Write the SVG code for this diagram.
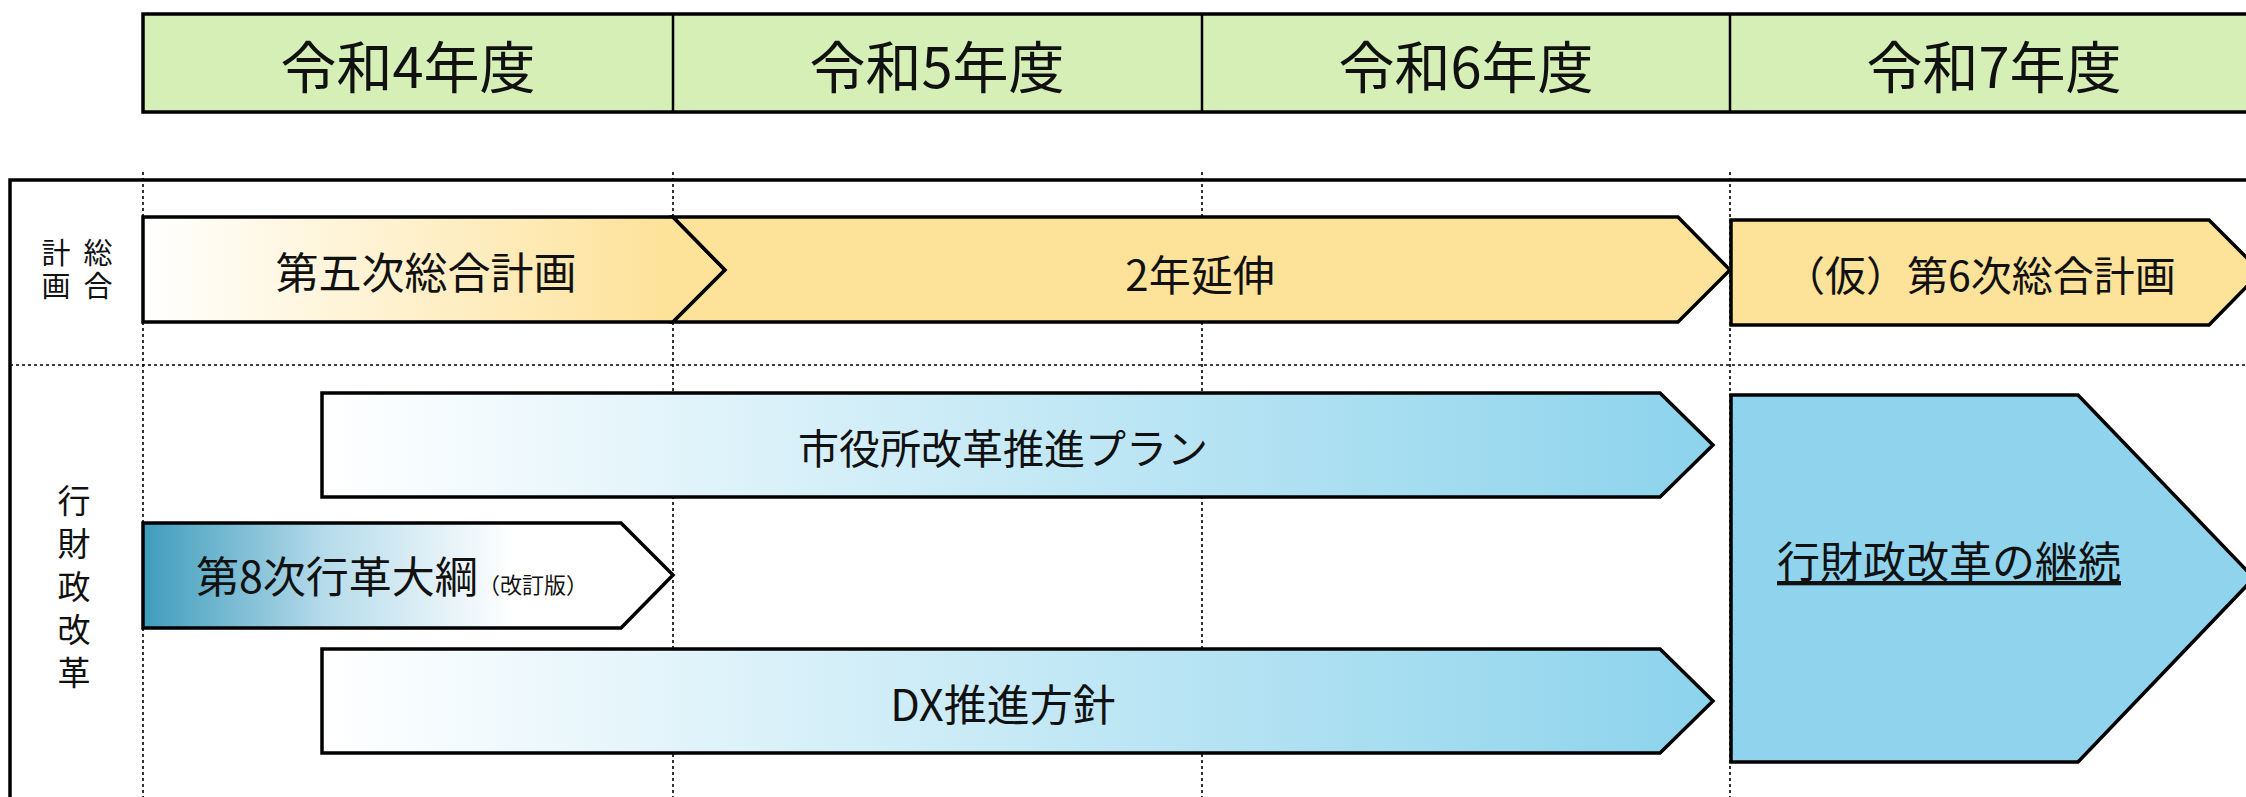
<svg xmlns="http://www.w3.org/2000/svg" width="2246" height="797" viewBox="0 0 2246 797">
<style>
text{font-family:"Noto Sans CJK JP","Noto Sans",sans-serif;fill:#111;}
.hdr{font-size:56px;text-anchor:middle;dominant-baseline:central;}
.vt{writing-mode:vertical-rl;text-anchor:start;}
.t{font-size:43px;text-anchor:middle;dominant-baseline:central;}
.shape{stroke:#000;stroke-width:3.5;stroke-linejoin:miter;}
.dot{stroke:#000;stroke-width:1.6;stroke-dasharray:3 3;fill:none;}
</style>
<defs>
<linearGradient id="gY" x1="0" y1="0" x2="1" y2="0">
<stop offset="0" stop-color="#ffffff"/>
<stop offset="0.9" stop-color="#fde29a"/>
<stop offset="1" stop-color="#fde29a"/>
</linearGradient>
<linearGradient id="gB" x1="0" y1="0" x2="1" y2="0">
<stop offset="0" stop-color="#ffffff"/>
<stop offset="1" stop-color="#8cd3ec"/>
</linearGradient>
<linearGradient id="gT" x1="0" y1="0" x2="1" y2="0">
<stop offset="0" stop-color="#3f9cbc"/>
<stop offset="0.35" stop-color="#b8dceb"/>
<stop offset="0.7" stop-color="#ffffff"/>
<stop offset="1" stop-color="#ffffff"/>
</linearGradient>
</defs>
<rect width="2246" height="797" fill="#ffffff"/>

<g id="header">
<rect x="143" y="14" width="2200" height="98" fill="#d6efb6" stroke="#000" stroke-width="3.5"/>
<line x1="673" y1="14" x2="673" y2="112" stroke="#000" stroke-width="2.5"/>
<line x1="1202" y1="14" x2="1202" y2="112" stroke="#000" stroke-width="2.5"/>
<line x1="1730" y1="14" x2="1730" y2="112" stroke="#000" stroke-width="2.5"/>
<text class="hdr" x="408" y="63">令和4年度</text>
<text class="hdr" x="937" y="63">令和5年度</text>
<text class="hdr" x="1466" y="63">令和6年度</text>
<text class="hdr" x="1994" y="63">令和7年度</text>
</g>

<g id="frame">
<rect x="10" y="180" width="2300" height="700" fill="none" stroke="#000" stroke-width="3.5"/>
<line class="dot" x1="10" y1="365" x2="2246" y2="365"/>
<line class="dot" x1="143" y1="172" x2="143" y2="797"/>
<line class="dot" x1="673" y1="172" x2="673" y2="797"/>
<line class="dot" x1="1202" y1="172" x2="1202" y2="797"/>
<line class="dot" x1="1730" y1="172" x2="1730" y2="797"/>
</g>

<g id="row-labels">
<text class="vt" x="98" y="238" style="font-size:29px;letter-spacing:4px">総合</text>
<text class="vt" x="56" y="238" style="font-size:29px;letter-spacing:4px">計画</text>
<text class="vt" x="74" y="484" style="font-size:33px;letter-spacing:10px">行財政改革</text>
</g>

<g id="connectors"></g>

<g id="n-dai5">
<polygon class="shape" fill="url(#gY)" points="143,217 673,217 725,270 673,322 143,322"/>
<text class="t" x="426" y="270">第五次総合計画</text>
</g>

<g id="n-enshin">
<polygon class="shape" fill="#fde29a" points="673,217 1678,217 1730,270 1678,322 673,322 725,270"/>
<text class="t" x="1200" y="272" style="font-size:42px">2年延伸</text>
</g>

<g id="n-dai6">
<polygon class="shape" fill="#fde29a" points="1731,220 2209,220 2261,272 2209,325 1731,325"/>
<text class="t" x="1980" y="273" style="font-size:41px">（仮）第6次総合計画</text>
</g>

<g id="n-shiyakusho">
<polygon class="shape" fill="url(#gB)" points="322,393 1660,393 1713,445 1660,497 322,497"/>
<text class="t" x="1003" y="446" style="font-size:41px">市役所改革推進プラン</text>
</g>

<g id="n-dai8">
<polygon class="shape" fill="url(#gT)" points="143,523 621,523 673,575 621,628 143,628"/>
<text x="196" y="593" style="font-size:43px">第8次行革大綱<tspan style="font-size:22px">（改訂版）</tspan></text>
</g>

<g id="n-dx">
<polygon class="shape" fill="url(#gB)" points="322,649 1660,649 1713,701 1660,753 322,753"/>
<text class="t" x="1003" y="702">DX推進方針</text>
</g>

<g id="n-keizoku">
<polygon class="shape" fill="#8fd4ec" points="1731,395 2078,395 2254,578 2078,762 1731,762"/>
<text class="t" x="1949" y="559" text-decoration="underline">行財政改革の継続</text>
</g>
</svg>
